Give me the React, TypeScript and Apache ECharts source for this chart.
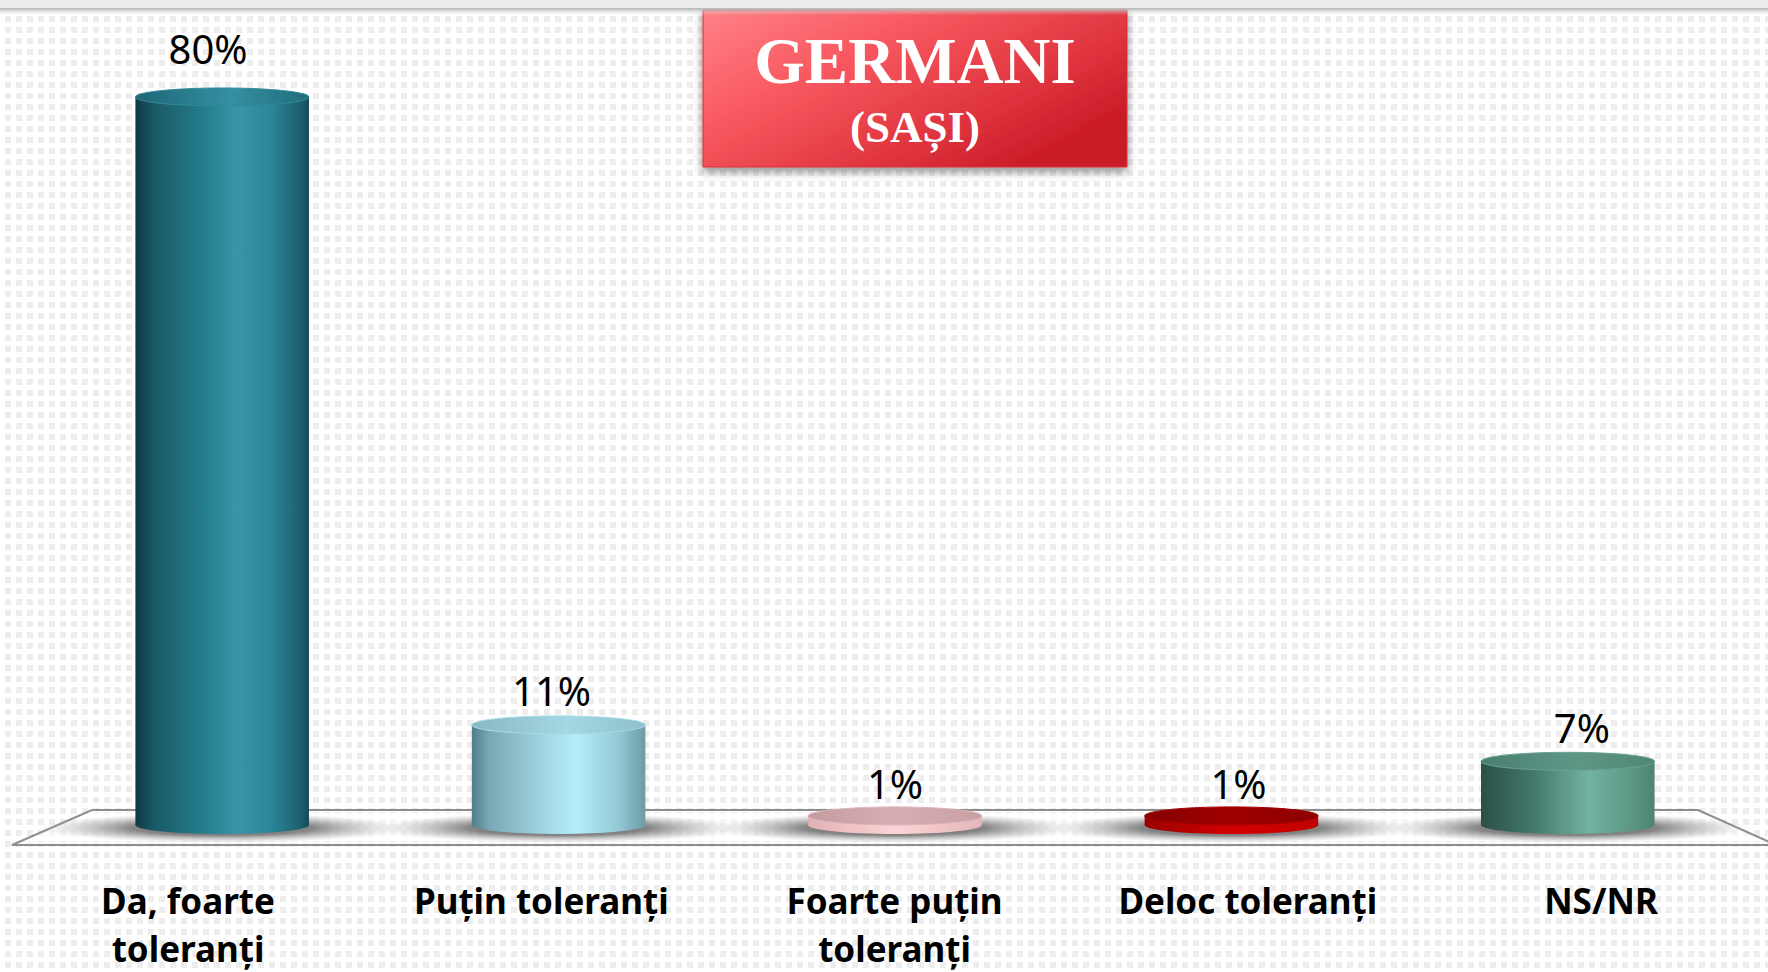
import { useEffect, useRef } from "react";
import * as echarts from "echarts";

const categories = [
  "Da, foarte\ntoleranți",
  "Puțin toleranți",
  "Foarte puțin\ntoleranți",
  "Deloc toleranți",
  "NS/NR",
];
const values = [80, 11, 1, 1, 7];
const titleMain = "GERMANI";
const titleSub = "(SAȘI)";

type Stop = [number, string];
const lg = (stops: Stop[]) =>
  new echarts.graphic.LinearGradient(
    0,
    0,
    1,
    0,
    stops.map(([offset, color]) => ({ offset, color }))
  );

const barStyles: { side: Stop[]; top: Stop[]; rim: string }[] = [
  {
    side: [
      [0, "#0f3a47"],
      [0.12, "#1b5b69"],
      [0.42, "#25808f"],
      [0.58, "#3995a7"],
      [0.78, "#2a8699"],
      [0.95, "#1d6070"],
      [1, "#164b58"],
    ],
    top: [
      [0, "#1d6675"],
      [0.55, "#3490a2"],
      [1, "#216c7b"],
    ],
    rim: "#2f8a9c",
  },
  {
    side: [
      [0, "#4f7d89"],
      [0.1, "#79a8b4"],
      [0.4, "#9fd3df"],
      [0.6, "#b6eefa"],
      [0.85, "#92c8d4"],
      [1, "#6d9ba6"],
    ],
    top: [
      [0, "#86b7c3"],
      [0.55, "#a6d8e3"],
      [1, "#8ec0cb"],
    ],
    rim: "#a9dbe6",
  },
  {
    side: [
      [0, "#e2b2b5"],
      [0.5, "#fdd4d7"],
      [1, "#e5b6b9"],
    ],
    top: [
      [0, "#c49b9e"],
      [0.5, "#d7aeb1"],
      [1, "#c8a0a3"],
    ],
    rim: "#dcb5b8",
  },
  {
    side: [
      [0, "#9a0000"],
      [0.5, "#d40000"],
      [1, "#c20000"],
    ],
    top: [
      [0, "#870000"],
      [0.5, "#9e0000"],
      [1, "#8d0000"],
    ],
    rim: "#a80000",
  },
  {
    side: [
      [0, "#2b4f46"],
      [0.3, "#43786a"],
      [0.62, "#73b3a1"],
      [0.85, "#5e9987"],
      [1, "#4d8373"],
    ],
    top: [
      [0, "#4a7f70"],
      [0.55, "#5f9686"],
      [1, "#4f8676"],
    ],
    rim: "#6aa393",
  },
];

export default function App() {
  const ref = useRef<HTMLDivElement>(null);

  useEffect(() => {
    if (!ref.current) return;
    const chart = echarts.init(ref.current, null, { renderer: "svg" });

    const option: any = {
      animation: false,
      backgroundColor: "transparent",
      grid: [
        { left: 54, width: 1682, top: 6, height: 819, outerBoundsMode: "none", containLabel: false },
        { left: 188, width: 1413, top: 800, height: 45, outerBoundsMode: "none", containLabel: false },
      ],
      xAxis: [
        {
          type: "category",
          gridIndex: 0,
          data: categories,
          show: false,
        },
        {
          type: "category",
          gridIndex: 1,
          data: categories,
          boundaryGap: false,
          position: "bottom",
          axisLine: { show: false, onZero: false },
          axisTick: { show: false },
          splitLine: { show: false },
          axisLabel: {
            interval: 0,
            margin: 31,
            fontFamily: "Noto Sans",
            fontWeight: "bold",
            fontSize: 35,
            lineHeight: 48,
            color: "#000",
          },
        },
      ],
      yAxis: [
        { type: "value", gridIndex: 0, min: 0, max: 90, show: false },
        { type: "value", gridIndex: 1, min: 0, max: 1, show: false },
      ],
      graphic: [
        {
          type: "rect",
          z: 1,
          shape: { x: 0, y: 0, width: 1768, height: 8 },
          style: { fill: "#ececec" },
        },
        {
          type: "rect",
          z: 1,
          shape: { x: 0, y: 8, width: 1768, height: 7 },
          style: {
            fill: new echarts.graphic.LinearGradient(0, 0, 0, 1, [
              { offset: 0, color: "#b4b4b4" },
              { offset: 1, color: "rgba(220,220,220,0)" },
            ]),
          },
        },
        {
          type: "polygon",
          z: 0,
          shape: {
            points: [
              [92, 810],
              [1698, 810],
              [1776, 845],
              [12, 845],
            ],
          },
          style: { fill: "rgba(255,255,255,0.5)", stroke: "#8e8e8e", lineWidth: 2 },
        },
        {
          type: "group",
          z: 20,
          children: [
            {
              type: "rect",
              shape: { x: 703, y: 10, width: 424, height: 157 },
              style: {
                fill: new echarts.graphic.LinearGradient(0, 0, 1, 0.7, [
                  { offset: 0, color: "#ff8288" },
                  { offset: 0.35, color: "#f95a61" },
                  { offset: 0.7, color: "#e23842" },
                  { offset: 1, color: "#c81a25" },
                ]),
                stroke: "#d23038",
                lineWidth: 1,
                shadowBlur: 10,
                shadowOffsetY: 4,
                shadowColor: "rgba(0,0,0,0.45)",
              },
            },
            {
              type: "text",
              x: 915,
              y: 61,
              style: {
                text: titleMain,
                fill: "#ffffff",
                font: 'bold 65px "Liberation Serif"',
                align: "center",
                verticalAlign: "middle",
              },
            },
            {
              type: "text",
              x: 915,
              y: 127,
              style: {
                text: titleSub,
                fill: "#ffffff",
                font: 'bold 45px "Liberation Serif"',
                align: "center",
                verticalAlign: "middle",
              },
            },
          ],
        },
      ],
      series: [
        {
          type: "custom",
          xAxisIndex: 0,
          yAxisIndex: 0,
          z: 5,
          data: values.map((v, i) => [i, v]),
          renderItem: (params: any, api: any) => {
            const i = params.dataIndex;
            const v = api.value(1);
            const [cx, ty] = api.coord([api.value(0), v]);
            const [, by] = api.coord([api.value(0), 0]);
            const band = api.size([1, 0])[0];
            const hw = band * 0.258;
            const ry = 9;
            const s = barStyles[i];
            const side = lg(s.side);
            const cs = params.coordSys;
            const mid = cs.x + cs.width / 2;
            const lx = cx + (cx - mid) * 0.021;
            const ly = ty - (32 + (by - ty) * 0.023);
            return {
              type: "group",
              children: [
                {
                  type: "ellipse",
                  shape: { cx, cy: by + 3, rx: hw + 95, ry: 15 },
                  style: {
                    fill: new echarts.graphic.RadialGradient(0.5, 0.5, 0.5, [
                      { offset: 0, color: "rgba(70,70,70,0.9)" },
                      { offset: 0.5, color: "rgba(95,95,95,0.75)" },
                      { offset: 0.8, color: "rgba(150,150,150,0.35)" },
                      { offset: 1, color: "rgba(180,180,180,0)" },
                    ]),
                  },
                },
                {
                  type: "ellipse",
                  shape: { cx, cy: by, rx: hw, ry },
                  style: { fill: side },
                },
                {
                  type: "rect",
                  shape: { x: cx - hw, y: ty, width: 2 * hw, height: by - ty },
                  style: { fill: side },
                },
                {
                  type: "ellipse",
                  shape: { cx, cy: ty, rx: hw, ry },
                  style: { fill: lg(s.top), stroke: s.rim, lineWidth: 1 },
                },
                {
                  type: "text",
                  x: lx,
                  y: ly,
                  style: {
                    text: v + "%",
                    fill: "#000",
                    font: '40px "Noto Sans"',
                    align: "center",
                    verticalAlign: "middle",
                  },
                },
              ],
            };
          },
        },
      ],
    };

    chart.setOption(option);
    return () => chart.dispose();
  }, []);

  return (
    <div
      style={{
        position: "fixed",
        left: 0,
        top: 0,
        width: 1768,
        height: 972,
        backgroundColor: "#ffffff",
        backgroundImage:
          "linear-gradient(to right, #ffffff 5px, rgba(255,255,255,0) 5px), linear-gradient(to bottom, #ffffff 5px, #ededed 5px)",
        backgroundSize: "11px 11px",
      }}
    >
      <div ref={ref} style={{ width: 1768, height: 972 }} />
    </div>
  );
}
